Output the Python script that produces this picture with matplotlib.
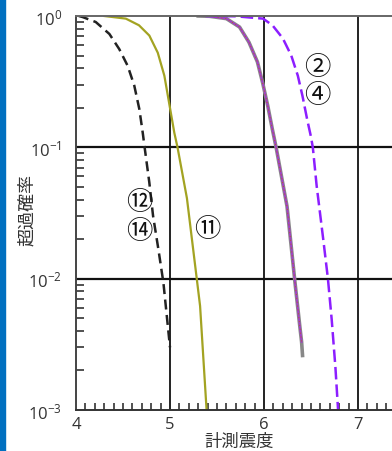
import matplotlib
matplotlib.use("Agg")
import matplotlib.pyplot as plt
from matplotlib.ticker import LogLocator, MultipleLocator, FixedLocator
from matplotlib.patches import Rectangle

plt.rcParams['font.family'] = ['Open Sans', 'Noto Sans CJK JP', 'DejaVu Sans']
plt.rcParams['mathtext.fontset'] = 'custom'
plt.rcParams['mathtext.rm'] = 'Open Sans'
plt.rcParams['mathtext.it'] = 'Open Sans'

# 超過確率曲線 (計測震度 vs 超過確率)
x_12_14 = [4.03, 4.07, 4.21, 4.355, 4.46, 4.55, 4.62, 4.674, 4.71, 4.73,
           4.78, 4.82, 4.875, 4.93, 5.00]
p_12_14 = [1.0, 0.982, 0.90, 0.73, 0.56, 0.417, 0.295, 0.195, 0.129, 0.100,
           0.054, 0.030, 0.017, 0.0093, 0.0030]

x_11 = [4.30, 4.53, 4.67, 4.78, 4.87, 4.94, 4.99, 5.046, 5.08, 5.18, 5.29,
        5.32, 5.39]
p_11 = [1.0, 0.955, 0.85, 0.71, 0.525, 0.351, 0.219, 0.129, 0.100, 0.041,
        0.0093, 0.0062, 0.00098]

x_mid = [5.30, 5.42, 5.60, 5.74, 5.84, 5.93, 5.986, 6.04, 6.09, 6.13, 6.245,
         6.33, 6.35, 6.38, 6.40]
p_mid = [1.0, 0.995, 0.955, 0.824, 0.631, 0.447, 0.309, 0.207, 0.136, 0.099,
         0.0355, 0.0093, 0.0069, 0.0044, 0.0033]
x_mid_gray = x_mid + [6.41]
p_mid_gray = p_mid + [0.0026]

x_2_4 = [5.38, 5.70, 5.99, 6.09, 6.20, 6.29, 6.36, 6.41, 6.46, 6.50, 6.52,
         6.56, 6.63, 6.68, 6.72, 6.76, 6.79]
p_2_4 = [1.0, 0.995, 0.955, 0.85, 0.676, 0.50, 0.351, 0.245, 0.162, 0.120,
         0.099, 0.051, 0.020, 0.010, 0.0049, 0.0021, 0.00095]

x_ticks = [4, 5, 6, 7]
y_ticks = [1e-3, 1e-2, 1e-1, 1e0]
y_ticklabels = ['10$^{-3}$', '10$^{-2}$', '10$^{-1}$', '10$^{0}$']

fig = plt.figure(figsize=(3.92, 4.52), dpi=100)
fig.patches.append(Rectangle((0, 0), 5 / 392, 1, transform=fig.transFigure,
                             color='#0070c0', zorder=0))
ax = fig.add_axes([76 / 392, 41 / 452, 329 / 392, 394 / 452])
ax.set_yscale('log')
ax.set_xlim(4, 7.5)
ax.set_ylim(1e-3, 1)

ax.plot(x_12_14, p_12_14, color='#222222', lw=1.8, dashes=(4, 2.2))
ax.plot(x_11, p_11, color='#a3a322', lw=1.6)
ax.plot(x_mid_gray, p_mid_gray, color='#888888', lw=2.6)
ax.plot(x_mid, p_mid, color='#a040c8', lw=1.3)
ax.plot(x_mid, p_mid, color='#c05030', lw=0.7, dashes=(1, 3))
ax.plot(x_2_4, p_2_4, color='#8c1eff', lw=1.8, dashes=(5, 2))

# 格子線
for xv in x_ticks[1:]:
    ax.axvline(xv, color='#222222', lw=1.4, zorder=1)
for yv in y_ticks[1:3]:
    ax.axhline(yv, color='#111111', lw=1.6, zorder=1)

ax.spines['right'].set_visible(False)
ax.spines['top'].set_color('#666666')
ax.spines['left'].set_color('#444444')
ax.spines['bottom'].set_color('#333333')
for s in ['top', 'left', 'bottom']:
    ax.spines[s].set_linewidth(1.4)

ax.xaxis.set_major_locator(FixedLocator(x_ticks))
ax.xaxis.set_minor_locator(MultipleLocator(0.1))
ax.yaxis.set_major_locator(FixedLocator(y_ticks))
ax.yaxis.set_minor_locator(LogLocator(subs=range(2, 10)))
ax.set_yticklabels(y_ticklabels)
ax.yaxis.set_minor_formatter(plt.NullFormatter())
ax.tick_params(axis='both', which='both', direction='in', colors='#333333')
ax.tick_params(axis='x', which='major', length=0, pad=4, labelsize=12)
ax.tick_params(axis='x', which='minor', length=5, width=1.2)
ax.tick_params(axis='y', which='major', length=0, pad=10, labelsize=12)
ax.tick_params(axis='y', which='minor', length=6, width=1.2)

cjk = ['Noto Sans CJK JP', 'DejaVu Sans']
fig.text(239 / 392, 1 - 442 / 452, '計測震度', fontsize=12.5, color='#333333',
         family=cjk, ha='center', va='center')
fig.text(27 / 392, 1 - 210 / 452, '超過確率', fontsize=13, color='#333333',
         family=cjk, ha='center', va='center', rotation=90)

lab = dict(fontsize=19, color='#111111', ha='center', va='center', family=cjk)
ax.text(6.564, 0.416, '②', **lab)
ax.text(6.564, 0.253, '④', **lab)
ax.text(4.67, 0.0384, '⑫', **lab)
ax.text(4.67, 0.0234, '⑭', **lab)
ax.text(5.394, 0.0242, '⑪', **lab)

fig.savefig('out.png', dpi=100)
